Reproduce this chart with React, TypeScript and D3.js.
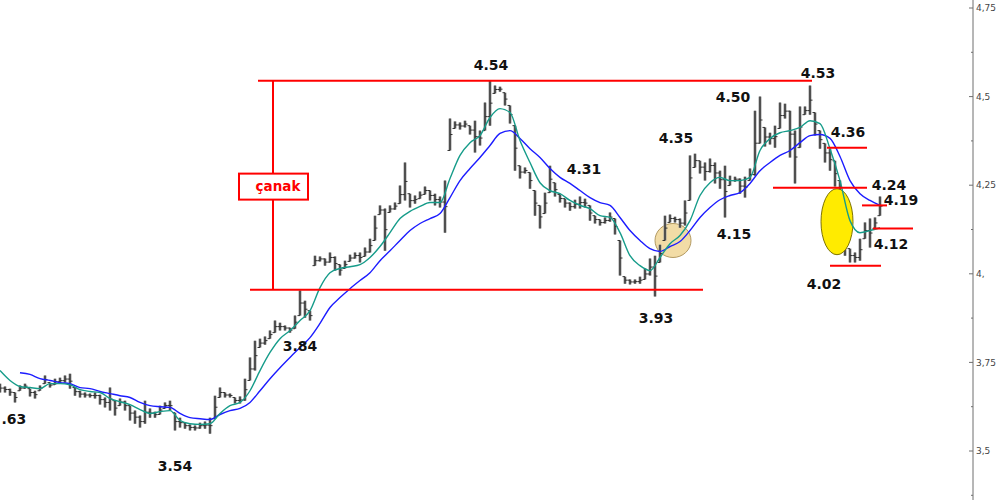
import * as d3 from 'd3';

// price bars, one every 5 px step (index)
const barHigh = [
  3.690, 3.682, 3.676, 3.665, 3.685, 3.690, 3.676, 3.670, 3.685, 3.713,
  3.693, 3.704, 3.707, 3.713, 3.718, 3.679, 3.670, 3.665, 3.662, 3.665,
  3.659, 3.651, 3.679, 3.642, 3.648, 3.642, 3.628, 3.614, 3.600, 3.642,
  3.620, 3.611, 3.628, 3.637, 3.642, 3.608, 3.594, 3.580, 3.575, 3.572,
  3.580, 3.583, 3.594, 3.656, 3.679, 3.665, 3.662, 3.651, 3.654, 3.704,
  3.764, 3.811, 3.817, 3.823, 3.840, 3.868, 3.862, 3.854, 3.848, 3.882,
  3.953, 3.924, 3.896, 4.051, 4.049, 4.043, 4.060, 4.049, 4.026, 4.037,
  4.054, 4.060, 4.060, 4.074, 4.099, 4.164, 4.193, 4.184, 4.193, 4.201,
  4.249, 4.314, 4.226, 4.221, 4.232, 4.246, 4.235, 4.226, 4.218, 4.263,
  4.438, 4.430, 4.427, 4.432, 4.418, 4.432, 4.404, 4.483, 4.545, 4.531,
  4.528, 4.511, 4.475, 4.418, 4.305, 4.300, 4.286, 4.235, 4.193, 4.229,
  4.305, 4.257, 4.224, 4.212, 4.201, 4.209, 4.218, 4.212, 4.193, 4.164,
  4.153, 4.159, 4.173, 4.156, 4.094, 3.992, 3.984, 3.984, 3.992, 4.015,
  4.043, 4.051, 4.082, 4.164, 4.167, 4.161, 4.156, 4.207, 4.334, 4.339,
  4.319, 4.314, 4.325, 4.314, 4.291, 4.305, 4.277, 4.274, 4.269, 4.274,
  4.297, 4.460, 4.500, 4.413, 4.398, 4.418, 4.483, 4.480, 4.460, 4.404,
  4.472, 4.472, 4.531, 4.455, 4.404, 4.368, 4.353, 4.319, 4.263, 4.136,
  4.071, 4.060, 4.099, 4.145, 4.156, 4.159, 4.218,
];
const barLow = [
  3.665, 3.665, 3.656, 3.637, 3.670, 3.676, 3.654, 3.648, 3.670, 3.690,
  3.679, 3.687, 3.690, 3.693, 3.676, 3.656, 3.651, 3.651, 3.651, 3.648,
  3.631, 3.623, 3.614, 3.600, 3.628, 3.614, 3.586, 3.577, 3.566, 3.577,
  3.594, 3.594, 3.603, 3.620, 3.614, 3.558, 3.566, 3.563, 3.558, 3.558,
  3.563, 3.563, 3.549, 3.591, 3.651, 3.651, 3.651, 3.634, 3.634, 3.642,
  3.699, 3.727, 3.792, 3.800, 3.817, 3.834, 3.840, 3.840, 3.834, 3.845,
  3.882, 3.876, 3.868, 4.023, 4.035, 4.023, 4.032, 4.009, 3.995, 4.015,
  4.035, 4.043, 4.032, 4.049, 4.060, 4.094, 4.167, 4.065, 4.173, 4.181,
  4.198, 4.207, 4.187, 4.198, 4.212, 4.224, 4.207, 4.193, 4.187, 4.116,
  4.348, 4.410, 4.407, 4.413, 4.393, 4.342, 4.362, 4.404, 4.418, 4.509,
  4.514, 4.475, 4.424, 4.291, 4.269, 4.283, 4.240, 4.164, 4.128, 4.170,
  4.229, 4.218, 4.201, 4.187, 4.178, 4.184, 4.184, 4.187, 4.150, 4.142,
  4.136, 4.142, 4.147, 4.111, 3.995, 3.972, 3.970, 3.972, 3.972, 3.984,
  3.995, 3.936, 4.032, 4.094, 4.145, 4.145, 4.130, 4.136, 4.207, 4.300,
  4.283, 4.263, 4.286, 4.255, 4.240, 4.159, 4.249, 4.260, 4.226, 4.215,
  4.263, 4.277, 4.368, 4.359, 4.365, 4.356, 4.410, 4.438, 4.328, 4.255,
  4.356, 4.449, 4.449, 4.390, 4.353, 4.314, 4.291, 4.246, 4.164, 4.051,
  4.032, 4.032, 4.037, 4.099, 4.074, 4.128, 4.164,
];

// moving averages, one value every 2 bars
const maFast = [
  3.727, 3.699, 3.682, 3.679, 3.676, 3.690, 3.690, 3.687, 3.673, 3.668,
  3.665, 3.648, 3.639, 3.631, 3.617, 3.606, 3.611, 3.614, 3.586, 3.577,
  3.575, 3.577, 3.606, 3.628, 3.637, 3.670, 3.727, 3.778, 3.817, 3.840,
  3.868, 3.896, 3.961, 4.003, 4.015, 4.020, 4.026, 4.046, 4.077, 4.116,
  4.156, 4.176, 4.190, 4.201, 4.201, 4.269, 4.334, 4.370, 4.390, 4.441,
  4.466, 4.455, 4.376, 4.314, 4.257, 4.235, 4.226, 4.207, 4.193, 4.184,
  4.164, 4.159, 4.116, 4.051, 4.023, 4.009, 4.046, 4.085, 4.108, 4.150,
  4.221, 4.257, 4.272, 4.263, 4.263, 4.272, 4.348, 4.382, 4.398, 4.404,
  4.413, 4.432, 4.424, 4.353, 4.263, 4.150, 4.116, 4.122, 4.130,
];
const maSlow = [
  null, null,
  3.721, 3.716, 3.704, 3.699, 3.693, 3.690, 3.679, 3.676, 3.668, 3.662,
  3.656, 3.651, 3.637, 3.628, 3.625, 3.623, 3.606, 3.594, 3.591, 3.589,
  3.603, 3.614, 3.620, 3.637, 3.670, 3.704, 3.735, 3.764, 3.792, 3.820,
  3.860, 3.905, 3.933, 3.958, 3.981, 4.003, 4.037, 4.065, 4.094, 4.122,
  4.142, 4.156, 4.170, 4.215, 4.263, 4.297, 4.328, 4.362, 4.396, 4.404,
  4.382, 4.353, 4.328, 4.297, 4.272, 4.255, 4.235, 4.215, 4.201, 4.193,
  4.159, 4.122, 4.094, 4.071, 4.063, 4.077, 4.091, 4.122, 4.159, 4.187,
  4.209, 4.221, 4.229, 4.255, 4.291, 4.314, 4.334, 4.348, 4.370, 4.390,
  4.393, 4.382, 4.331, 4.263, 4.226, 4.207, 4.193,
];

// red support / resistance lines: level, from bar, to bar
const levels: [number, number, number][] = [
  [4.545, 51.6, 162.4],
  [3.955, 50, 140.6],
  [4.356, 165.4, 173.4],
  [4.243, 154.6, 173.4],
  [4.193, 172.4, 177.4],
  [4.128, 174.6, 182.6],
  [4.023, 166, 176.2],
];

// price labels: text, bar, price
const labels: [string, number, number][] = [
  ['3.54', 35, 3.459],
  ['3.84', 60, 3.795],
  ['4.54', 98.2, 4.588],
  ['4.31', 116.8, 4.297],
  ['3.93', 131.2, 3.876],
  ['4.35', 135.2, 4.384],
  ['4.50', 146.6, 4.5],
  ['4.15', 146.8, 4.113],
  ['4.53', 163.6, 4.568],
  ['4.02', 164.8, 3.972],
  ['4.36', 169.6, 4.401],
  ['4.24', 177.8, 4.251],
  ['4.12', 178.2, 4.085],
  ['4.19', 180.2, 4.208],
];

const yTicks = [3.5, 3.75, 4, 4.25, 4.5, 4.75];
const yMinor = [3.375, 3.625, 3.875, 4.125, 4.375, 4.625];

const W = 1000;
const H = 500;

const fmtTick = (v: number) => {
  const s = String(v).replace('.', ',');
  return s.includes(',') ? s : s + ',';
};

export default function App() {
  const x = d3.scaleLinear().domain([0, 176]).range([0, 880]);
  const y = d3.scaleLinear().domain([3.5, 4.75]).range([451, 8]);
  const axisX = 973;

  const maLine = d3
    .line<number | null>()
    .defined((d) => d != null)
    .x((_, i) => x(i * 2))
    .y((d) => y(d as number))
    .curve(d3.curveMonotoneX);

  const red = '#ff0000';
  const labelFont = 'DejaVu Sans, Verdana, sans-serif';

  return (
    <svg
      width={W}
      height={H}
      style={{ position: 'fixed', left: 0, top: 0, background: '#fff' }}
    >
      {/* beige marker circle */}
      <ellipse
        cx={x(134.6)}
        cy={y(4.094)}
        rx={18}
        ry={17}
        fill="#f2dca6"
        stroke="#b39a62"
        strokeWidth={1}
      />

      {/* price bars */}
      <g>
        {barHigh.map((hi, i) => {
          const lo = barLow[i];
          const top = y(hi);
          const h = Math.max(2, y(lo) - top);
          const prevMid = i > 0 ? (y(barHigh[i - 1]) + y(barLow[i - 1])) / 2 : top + h / 2;
          const mid = top + h / 2;
          return (
            <g key={i}>
              <rect x={x(i) - 1.5} y={top} width={3} height={h} fill="#a0a0a0" />
              <line
                x1={x(i)}
                x2={x(i)}
                y1={top}
                y2={top + h}
                stroke="#1a1a1a"
                strokeWidth={1.2}
              />
              <line
                x1={x(i) - 2.5}
                x2={x(i)}
                y1={Math.min(Math.max(prevMid, top), top + h)}
                y2={Math.min(Math.max(prevMid, top), top + h)}
                stroke="#333"
                strokeWidth={1}
              />
              <line x1={x(i)} x2={x(i) + 2.5} y1={mid} y2={mid} stroke="#333" strokeWidth={1} />
            </g>
          );
        })}
      </g>

      {/* yellow ellipse */}
      <ellipse
        cx={x(167.4)}
        cy={y(4.147)}
        rx={16}
        ry={33}
        fill="#ffeb00"
        stroke="#7d7300"
        strokeWidth={1}
      />

      {/* moving averages */}
      <path d={maLine(maSlow) || ''} fill="none" stroke="#1c1cff" strokeWidth={1.4} />
      <path d={maLine(maFast) || ''} fill="none" stroke="#169c8a" strokeWidth={1.4} />

      {/* red lines */}
      {levels.map(([lv, a, b], i) => (
        <line
          key={i}
          x1={x(a)}
          x2={x(b)}
          y1={y(lv)}
          y2={y(lv)}
          stroke={red}
          strokeWidth={2}
        />
      ))}
      <line
        x1={x(54.6)}
        x2={x(54.6)}
        y1={y(levels[0][0])}
        y2={y(levels[1][0])}
        stroke={red}
        strokeWidth={2}
      />
      <rect
        x={x(54.6) - 34}
        y={y(4.246) - 13}
        width={69}
        height={26}
        fill="#fff"
        stroke={red}
        strokeWidth={2}
      />
      <text
        x={x(54.6) + 5}
        y={y(4.246)}
        dy="0.35em"
        textAnchor="middle"
        fill={red}
        fontFamily={labelFont}
        fontWeight="bold"
        fontSize={13.5}
      >
        çanak
      </text>

      {/* price labels */}
      {labels.map(([t, bi, p]) => (
        <text
          key={t}
          x={x(bi)}
          y={y(p)}
          dy="0.36em"
          textAnchor="middle"
          fill="#111"
          fontFamily={labelFont}
          fontWeight="bold"
          fontSize={14}
        >
          {t}
        </text>
      ))}
      {/* left-edge label, only its tail shows in the chart */}
      <text
        x={x(0.3)}
        y={y(3.591)}
        dy="0.36em"
        fill="#111"
        fontFamily={labelFont}
        fontWeight="bold"
        fontSize={14}
      >
        .63
      </text>

      {/* right axis */}
      <line x1={axisX} x2={axisX} y1={0} y2={H} stroke="#6e6e6e" strokeWidth={1} />
      {yTicks.map((t) => (
        <g key={t}>
          <line x1={axisX - 4} x2={axisX} y1={y(t)} y2={y(t)} stroke="#6e6e6e" />
          <text
            x={axisX + 3}
            y={y(t)}
            dy="0.35em"
            fontFamily="DejaVu Sans, Verdana, sans-serif"
            fontSize={9}
            fill="#444"
          >
            {fmtTick(t)}
          </text>
        </g>
      ))}
      {yMinor.map((t) => (
        <line key={t} x1={axisX - 2} x2={axisX} y1={y(t)} y2={y(t)} stroke="#6e6e6e" />
      ))}
    </svg>
  );
}
